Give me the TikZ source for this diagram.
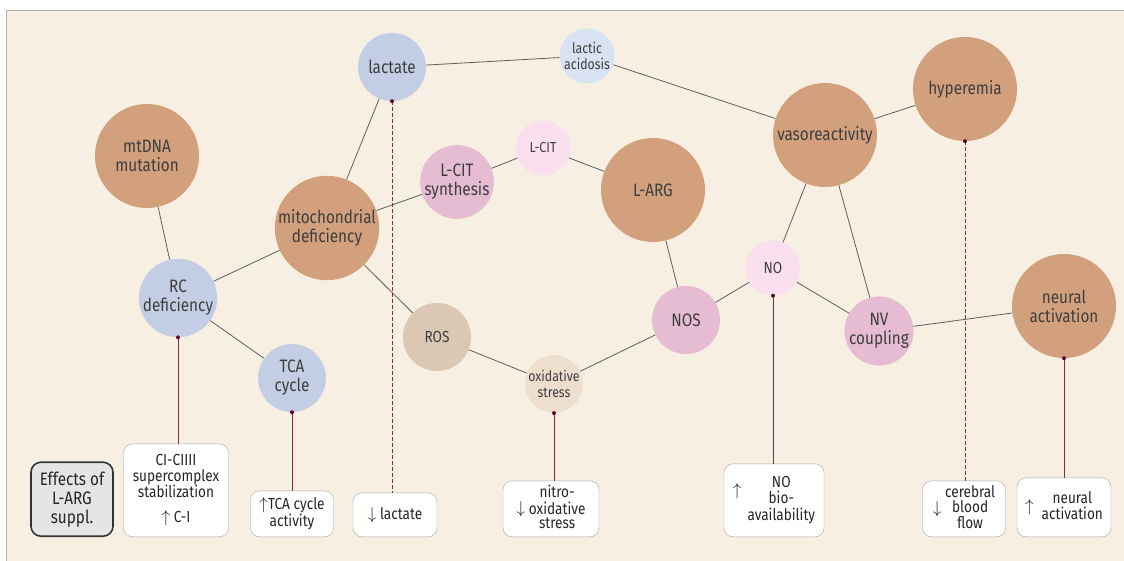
\documentclass[tikz,border=0pt]{standalone}
\usepackage{fontspec}
\setmainfont{Fira Sans}[FakeStretch=0.85]
\usepackage{tikz}
\usetikzlibrary{positioning,calc}
\definecolor{paper}{RGB}{247,239,225}
\definecolor{tanc}{RGB}{210,160,125}
\definecolor{bluec}{RGB}{195,206,228}
\definecolor{lbluec}{RGB}{216,226,243}
\definecolor{pinkc}{RGB}{229,188,210}
\definecolor{lpinkc}{RGB}{250,224,238}
\definecolor{rosc}{RGB}{218,199,180}
\definecolor{lrosc}{RGB}{237,222,206}
\definecolor{inkc}{RGB}{62,62,62}
\definecolor{edgec}{RGB}{95,95,95}
\definecolor{dropc}{RGB}{140,40,80}
\definecolor{dotc}{RGB}{95,10,45}
\newcommand{\stk}[1]{{\renewcommand{\arraystretch}{0.85}\begin{tabular}{@{}c@{}}#1\end{tabular}}}

\begin{document}
\begin{tikzpicture}[x=1pt,y=-1pt,
  bubble/.style={circle,inner sep=0pt,align=center,text=inkc,
    font=\fontsize{18}{19}\selectfont},
  big/.style={minimum size=104pt},
  mid/.style={minimum size=68pt},
  small/.style={minimum size=55pt,font=\fontsize{14.5}{15.5}\selectfont},
  effbox/.style={draw=black!35,fill=white,rounded corners=9pt,anchor=south,
    align=center,inner sep=1pt,text=black!85,font=\fontsize{16}{15}\selectfont},
  link/.style={edgec,line width=0.8pt},
  drop/.style={dropc,line width=0.9pt},
  dropdash/.style={dropc,line width=0.9pt,dash pattern=on 4pt off 2pt}]
  \useasboundingbox (0,0) rectangle (1124,561);
  \fill[paper] (6,11) rectangle (1124,561);
  \draw[black!30,line width=1pt] (1124,11) -- (6,11) -- (6,561);

  % circles
  \node[bubble,big,fill=tanc] (mtdna) at (147,156) {mtDNA\\mutation};
  \node[bubble,big,fill=tanc] (mito) at (327,228) {mitochondrial\\deficiency};
  \node[bubble,mid,fill=bluec] (rc) at (178,298) {RC\\deficiency};
  \node[bubble,mid,fill=bluec] (tca) at (292,378) {TCA\\cycle};
  \node[bubble,mid,fill=bluec] (lactate) at (392,67) {lactate};
  \node[bubble,small,fill=lbluec] (acidosis) at (587,56) {lactic\\acidosis};
  \node[bubble,mid,fill=pinkc] (citsyn) at (457,182) {L-CIT\\synthesis};
  \node[bubble,small,fill=lpinkc] (cit) at (543,148) {L-CIT};
  \node[bubble,big,fill=tanc] (arg) at (653,190) {L-ARG};
  \node[bubble,mid,fill=rosc,font=\fontsize{16}{17}\selectfont] (ros) at (437,337) {ROS};
  \node[bubble,small,fill=lrosc] (oxs) at (554,384) {oxidative\\stress};
  \node[bubble,mid,fill=pinkc] (nos) at (686,320) {NOS};
  \node[bubble,small,fill=lpinkc,font=\fontsize{16}{17}\selectfont] (no) at (773,268) {NO};
  \node[bubble,big,fill=tanc] (vaso) at (825,135) {vasoreactivity};
  \node[bubble,big,fill=tanc] (hyper) at (965,89) {hyperemia};
  \node[bubble,mid,fill=pinkc] (nv) at (879,331) {NV\\coupling};
  \node[bubble,big,fill=tanc] (neural) at (1064,306) {neural\\activation};

  % links
  \draw[link] (mtdna) -- (rc);
  \draw[link] (rc) -- (mito);
  \draw[link] (rc) -- (tca);
  \draw[link] (mito) -- (lactate);
  \draw[link] (mito) -- (citsyn);
  \draw[link] (mito) -- (ros);
  \draw[link] (lactate) -- (acidosis);
  \draw[link] (acidosis) -- (vaso);
  \draw[link] (citsyn) -- (cit);
  \draw[link] (cit) -- (arg);
  \draw[link] (arg) -- (nos);
  \draw[link] (ros) -- (oxs);
  \draw[link] (oxs) -- (nos);
  \draw[link] (nos) -- (no);
  \draw[link] (no) -- (vaso);
  \draw[link] (no) -- (nv);
  \draw[link] (vaso) -- (nv);
  \draw[link] (vaso) -- (hyper);
  \draw[link] (nv) -- (neural);

  % effect boxes
  \node[effbox,draw=black!80,line width=1.6pt,fill=black!10,rounded corners=10pt,
    minimum width=82pt,minimum height=74pt,font=\fontsize{18}{19}\selectfont]
    (key) at (72,537) {Effects of\\L-ARG\\suppl.};
  \node[effbox,minimum width=105pt,minimum height=93pt] (cibox) at (176,537)
    {\stk{CI-CIIII\\supercomplex\\stabilization}\\[8pt]$\uparrow$ C-I};
  \node[effbox,minimum width=83pt,minimum height=46pt] (tcabox) at (292,537)
    {\stk{$\uparrow$TCA cycle\\activity}};
  \node[effbox,minimum width=84pt,minimum height=44pt] (lacbox) at (395,537)
    {$\downarrow$ lactate};
  \node[effbox,minimum width=96pt,minimum height=56pt] (oxbox) at (551,537)
    {$\downarrow$ \stk{nitro-\\oxidative\\stress}};
  \node[effbox,minimum width=100pt,minimum height=73pt] (nobox) at (774,537)
    {\raisebox{9pt}{$\uparrow$}\hspace{6pt}\stk{NO\\bio-\\availability}};
  \node[effbox,minimum width=83pt,minimum height=56pt] (cbfbox) at (964,537)
    {$\downarrow$ \stk{cerebral\\blood\\flow}};
  \node[effbox,minimum width=94pt,minimum height=59pt] (neubox) at (1064,537)
    {$\uparrow$\enspace\stk{neural\\activation}};

  % drop lines
  \draw[drop] (rc.south) -- (rc.south |- cibox.north);
  \draw[drop] (tca.south) -- (tca.south |- tcabox.north);
  \draw[dropdash] (lactate.south) -- (lactate.south |- lacbox.north);
  \draw[drop] (oxs.south) -- (oxs.south |- oxbox.north);
  \draw[drop] (no.south) -- (no.south |- nobox.north);
  \draw[dropdash] (hyper.south) -- (hyper.south |- cbfbox.north);
  \draw[drop] (neural.south) -- (neural.south |- neubox.north);
  \foreach \n in {rc,tca,lactate,oxs,no,hyper,neural}
    \fill[dotc] (\n.south) circle (2pt);
\end{tikzpicture}
\end{document}
